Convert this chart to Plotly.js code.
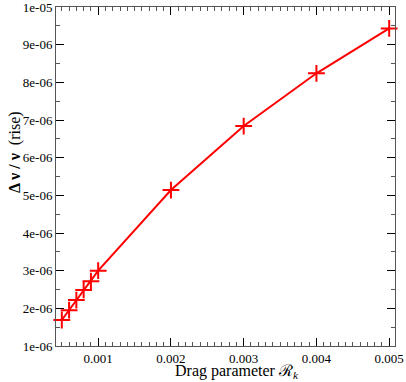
<!DOCTYPE html>
<html>
<head>
<meta charset="utf-8">
<script src="https://cdn.plot.ly/plotly-3.0.1.min.js"></script>
<style>
  html, body { margin: 0; padding: 0; background: white; }
  #chart { width: 406px; height: 382px; }
</style>
</head>
<body>
<div id="chart"></div>
<script>
const dragParam = [0.0005, 0.0006, 0.0007, 0.0008, 0.0009, 0.001, 0.002, 0.003, 0.004, 0.005];
const rise = [1.69e-6, 1.95e-6, 2.22e-6, 2.49e-6, 2.72e-6, 3.0e-6, 5.14e-6, 6.84e-6, 8.24e-6, 9.43e-6];

const xTickVals = [0.001, 0.002, 0.003, 0.004, 0.005];
const xTickText = ['0.001', '0.002', '0.003', '0.004', '0.005'];
const yTickVals = [1e-6, 2e-6, 3e-6, 4e-6, 5e-6, 6e-6, 7e-6, 8e-6, 9e-6, 1e-5];
const yTickText = ['1e-06', '2e-06', '3e-06', '4e-06', '5e-06', '6e-06', '7e-06', '8e-06', '9e-06', '1e-05'];

const serif = '"Liberation Serif", "Times New Roman", serif';

const trace = {
    x: dragParam,
    y: rise,
    type: 'scatter',
    mode: 'lines+markers',
    line: { color: '#ff0000', width: 2 },
    marker: { symbol: 'cross-thin', size: 12, line: { color: '#ff0000', width: 2 } },
    showlegend: false,
    cliponaxis: false
};

const layout = {
    width: 406,
    height: 382,
    margin: { l: 56, r: 11, t: 7, b: 36 },
    paper_bgcolor: 'white',
    plot_bgcolor: 'white',
    font: { family: serif, size: 12, color: '#000' },
    xaxis: {
        range: [0.00042, 0.00508],
        tickvals: xTickVals,
        ticktext: xTickText,
        ticks: 'inside',
        ticklen: 8,
        tickcolor: '#000',
        mirror: 'allticks',
        showline: true,
        linecolor: '#555',
        linewidth: 1,
        showgrid: false,
        zeroline: false,
        ticklabeloverflow: 'allow',
        minor: { dtick: 0.0001, tick0: 0, ticks: 'inside', ticklen: 4, tickcolor: '#555', showgrid: false },
        tickfont: { family: serif, size: 13 }
    },
    yaxis: {
        range: [0.99999e-6, 1.00001e-5],
        tickvals: yTickVals,
        ticktext: yTickText,
        ticks: 'inside',
        ticklen: 8,
        tickcolor: '#000',
        mirror: 'allticks',
        showline: true,
        linecolor: '#555',
        linewidth: 1,
        showgrid: false,
        zeroline: false,
        ticklabeloverflow: 'allow',
        minor: { dtick: 5e-7, tick0: 0, ticks: 'inside', ticklen: 4, tickcolor: '#555', showgrid: false },
        tickfont: { family: serif, size: 13 }
    },
    annotations: [
        {
            text: 'Drag parameter ℛ<sub><i>k</i></sub>',
            xref: 'paper', yref: 'paper',
            x: 0.534, y: 0, yshift: -25,
            xanchor: 'center', yanchor: 'middle',
            showarrow: false,
            font: { family: serif, size: 16 }
        },
        {
            text: '<b>Δ ν / ν</b>  (rise)',
            xref: 'paper', yref: 'paper',
            x: 0, y: 0.572, xshift: -41,
            xanchor: 'center', yanchor: 'middle',
            textangle: -90,
            showarrow: false,
            font: { family: serif, size: 16 }
        }
    ]
};

Plotly.newPlot('chart', [trace], layout, { displayModeBar: false, staticPlot: true });
</script>
</body>
</html>
